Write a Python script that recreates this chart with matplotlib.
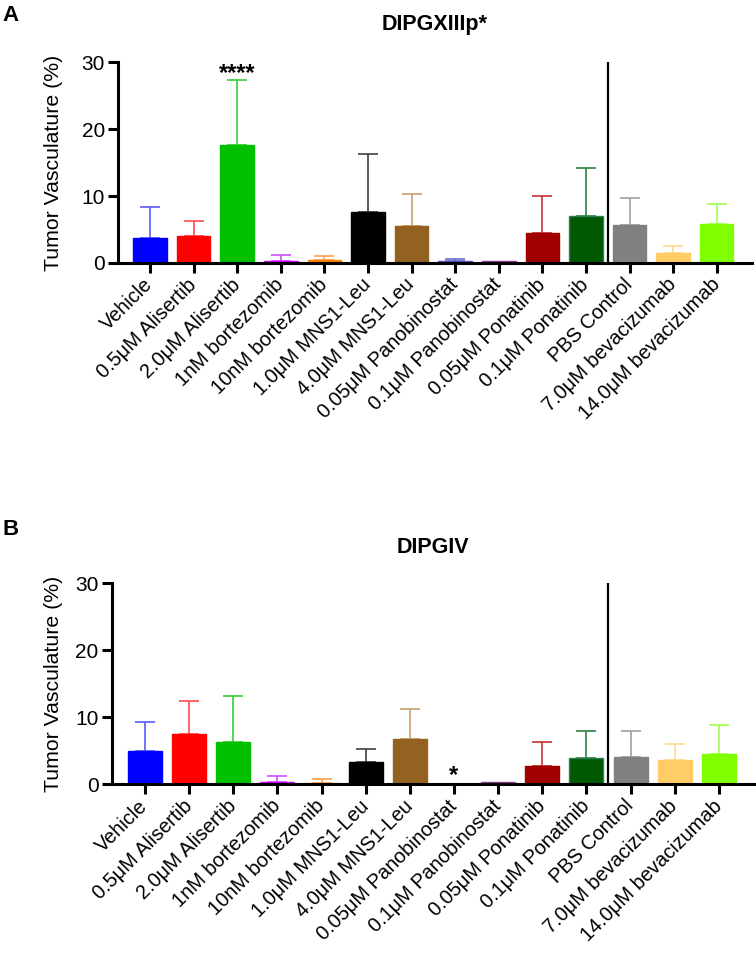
import matplotlib
matplotlib.use("Agg")
import matplotlib.pyplot as plt
import numpy as np

plt.rcParams['font.family'] = ['Liberation Sans', 'DejaVu Sans']

categories = ["Vehicle", "0.5μM Alisertib", "2.0μM Alisertib", "1nM bortezomib",
              "10nM bortezomib", "1.0μM MNS1-Leu", "4.0μM MNS1-Leu",
              "0.05μM Panobinostat", "0.1μM Panobinostat", "0.05μM Ponatinib",
              "0.1μM Ponatinib", "PBS Control", "7.0μM bevacizumab", "14.0μM bevacizumab"]

# Panel A: DIPGXIIIp*
mean_a = [3.7, 4.0, 17.7, 0.35, 0.4, 7.6, 5.5, 0.35, 0.25, 4.5, 7.1, 5.7, 1.5, 5.8]
err_a = [4.7, 2.3, 9.7, 0.85, 0.7, 8.7, 4.8, 0.2, 0.0, 5.5, 7.1, 4.0, 1.1, 3.0]

# Panel B: DIPGIV
mean_b = [5.0, 7.45, 6.3, 0.3, 0.25, 3.3, 6.7, 0.08, 0.35, 2.8, 3.9, 4.1, 3.6, 4.5]
err_b = [4.35, 4.95, 6.9, 0.9, 0.5, 1.9, 4.5, 0.0, 0.0, 3.5, 4.1, 3.8, 2.4, 4.3]

colors = ["#0000FF", "#FF0000", "#00C000", "#CC00FF", "#FF8000", "#000000", "#946220",
          "#5050C0", "#993399", "#A00000", "#005800", "#808080", "#FFCC66", "#80FF00"]
err_colors = ["#5A5AFF", "#FF4A4A", "#3AD03A", "#D050FF", "#FFA050", "#404040", "#C8A070",
              "#7070D0", "#B060B0", "#C83030", "#2E8040", "#A0A0A0", "#FFD890", "#A0FF50"]
edge_colors = list(colors)
edge_colors[10] = "#2E7D57"

W, H = 756, 959
fig = plt.figure(figsize=(W / 100, H / 100), dpi=100)


def make_panel(rect, means, errs, title, xlim, letter, letter_y, title_y, stars):
    ax = fig.add_axes(rect)
    x = np.arange(len(categories))
    ax.bar(x, means, width=0.77, color=colors, edgecolor=edge_colors, linewidth=1.0, zorder=2)
    for xi, m, e, c in zip(x, means, errs, err_colors):
        if e > 0:
            ax.errorbar(xi, m, yerr=[[0], [e]], fmt='none', ecolor=c, elinewidth=1.2,
                        capsize=7, capthick=1.2, zorder=1)
    ax.set_xlim(*xlim)
    ax.set_ylim(0, 30)
    ax.set_yticks([0, 10, 20, 30])
    ax.set_xticks(x)
    ax.set_xticklabels(categories, rotation=45, ha='right', va='center',
                       rotation_mode='anchor', fontsize=14.4)
    ax.tick_params(axis='y', labelsize=15, length=7.5, width=2.2, pad=2)
    ax.tick_params(axis='x', length=7.5, width=2.2, pad=6)
    for s in ['top', 'right']:
        ax.spines[s].set_visible(False)
    for s in ['left', 'bottom']:
        ax.spines[s].set_linewidth(2.2)
    ax.set_ylabel("Tumor Vasculature (%)", fontsize=15.3)
    left_px = rect[0] * W
    width_px = rect[2] * W
    ax.yaxis.set_label_coords((63 - left_px) / width_px, 0.5)
    ax.axvline(10.5, ymin=0, ymax=1, color='black', linewidth=1.6, zorder=3)
    for (xi, yv, txt) in stars:
        ax.text(xi, yv, txt, ha='center', va='baseline', fontsize=17, fontweight='bold')
    cx = (rect[0] + rect[0] + rect[2]) / 2
    fig.text(cx, 1 - title_y / H, title, ha='center', va='baseline', fontsize=15.5,
             fontweight='bold')
    fig.text(2 / W, 1 - letter_y / H, letter, ha='left', va='baseline', fontsize=16,
             fontweight='bold')
    return ax


make_panel([118 / W, 1 - 263 / H, (752 - 118) / W, (263 - 62.3) / H], mean_a, err_a,
           "DIPGXIIIp*", (-0.734, 13.81), "A", 21, 30, [(2, 27.3, "****")])
make_panel([111.7 / W, 1 - 784.3 / H, (755 - 111.7) / W, (784.3 - 583.3) / H], mean_b, err_b,
           "DIPGIV", (-0.754, 13.82), "B", 535, 553, [(7, 0.4, "*")])

fig.savefig("out.png", dpi=100)
